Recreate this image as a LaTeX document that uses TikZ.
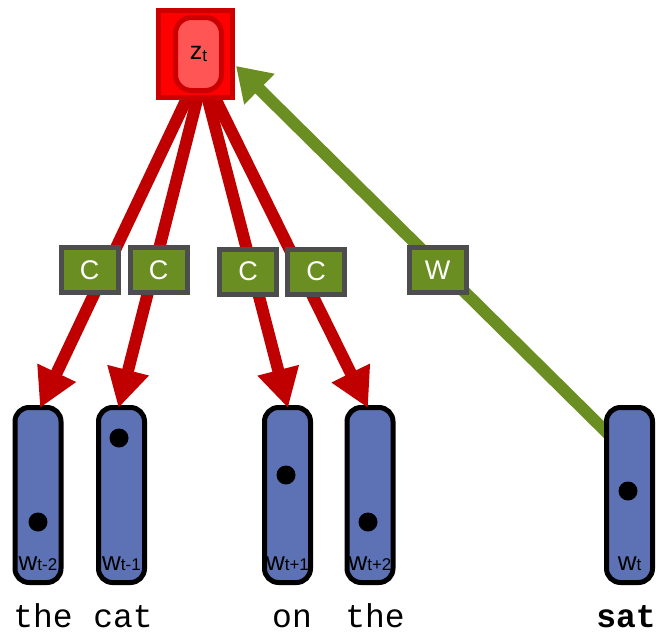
\documentclass[tikz,border=0pt]{standalone}
\usepackage{fontspec}
\setmainfont{Liberation Sans}
\newfontfamily\wordfont{Liberation Mono}
\usetikzlibrary{arrows.meta,calc}

\definecolor{linkred}{RGB}{192,0,0}
\definecolor{topedge}{RGB}{204,0,0}
\definecolor{topfill}{RGB}{255,0,0}
\definecolor{innerfill}{RGB}{255,85,85}
\definecolor{olivegreen}{RGB}{107,142,35}
\definecolor{boxgray}{RGB}{77,77,77}
\definecolor{vecblue}{RGB}{93,114,180}

\pgfdeclarelayer{greenlayer}
\pgfdeclarelayer{veclayer}
\pgfdeclarelayer{redlayer}
\pgfsetlayers{greenlayer,veclayer,redlayer,main}

\tikzset{
  vecbox/.style={draw=black, line width=5pt, fill=vecblue, rounded corners=14pt,
    minimum width=46pt, minimum height=175pt, inner sep=0pt},
  dotmark/.style={circle, fill=black, minimum size=19pt, inner sep=0pt},
  veclabel/.style={anchor=base, inner sep=0pt},
  cbox/.style={draw=boxgray, line width=5pt, fill=olivegreen, minimum width=57pt,
    minimum height=45pt, inner sep=0pt, text=white, font=\fontsize{27}{27}\selectfont},
  redlink/.style={draw=linkred, line width=12pt, -{Triangle[length=39pt,width=40pt]}},
  greenlink/.style={draw=olivegreen, line width=12pt, -{Triangle[length=33pt,width=41pt]}},
  word/.style={anchor=base, inner sep=0pt, text depth=0pt, text height=20pt,
    font=\wordfont\fontsize{33}{33}\selectfont},
}
\newcommand{\wsub}[1]{{\fontsize{26}{26}\selectfont w}{\fontsize{17}{17}\selectfont #1}}

\begin{document}
\begin{tikzpicture}[x=1pt,y=-1pt]
\useasboundingbox (0,0) rectangle (661,632);

% word vectors
\begin{pgfonlayer}{veclayer}
  \node[vecbox] (v1) at (38,495) {};
  \node[vecbox] (v2) at (121.5,495) {};
  \node[vecbox] (v3) at (287.5,495) {};
  \node[vecbox] (v4) at (370,495) {};
  \node[vecbox] (vt) at (629.5,495) {};
  \node[dotmark] (d1) at (38,522) {};
  \node[dotmark] (d2) at (119,438) {};
  \node[dotmark] (d3) at (286,475) {};
  \node[dotmark] (d4) at (368,522) {};
  \node[dotmark] (dt) at (628,491) {};
  \node[veclabel] (l1) at (38,570) {\wsub{t-2}};
  \node[veclabel] (l2) at (121.5,570) {\wsub{t-1}};
  \node[veclabel] (l3) at (287.5,570) {\wsub{t+1}};
  \node[veclabel] (l4) at (370,570) {\wsub{t+2}};
  \node[veclabel] (lt) at (629.5,570) {\wsub{t}};
\end{pgfonlayer}

% topic node
\node[draw=topedge, line width=5pt, fill=topfill, minimum width=74pt,
  minimum height=87pt, inner sep=0pt] (top) at (195.5,54) {};
\node[draw=topedge, line width=5pt, fill=innerfill, rounded corners=16pt,
  minimum width=46pt, minimum height=73pt, inner sep=0pt] (zt) at (198.5,54)
  {{\fontsize{25}{25}\selectfont z}\raisebox{-2pt}{\fontsize{17}{17}\selectfont t}};

% context links
\begin{pgfonlayer}{redlayer}
  \draw[redlink] ($(top.south)+(-5.5,-8)$) -- ($(v1.north)+(2,3)$);
  \draw[redlink] ($(top.south)+(3.5,-8)$) -- ($(v2.north)+(-3,3)$);
  \draw[redlink] ($(top.south)+(10.5,-8)$) -- ($(v3.north)+(0.5,3)$);
  \draw[redlink] ($(top.south)+(16.5,-8)$) -- ($(v4.north)+(-2,3)$);
\end{pgfonlayer}

% target word link
\begin{pgfonlayer}{greenlayer}
  \draw[greenlink] ($(vt.center)+(-10,-50)$) -- ($(top.east)+(1,12)$);
\end{pgfonlayer}

% weight boxes
\node[cbox] (c1) at (89.5,270) {C};
\node[cbox] (c2) at (158.5,270) {C};
\node[cbox] (c3) at (248,271.5) {C};
\node[cbox] (c4) at (316,271.5) {C};
\node[cbox] (wb) at (437.5,270) {W};

% words
\node[word] (t1) at (43,627) {the};
\node[word] (t2) at (123,627) {cat};
\node[word] (t3) at (292,627) {on};
\node[word] (t4) at (375,627) {the};
\node[word, font=\wordfont\bfseries\fontsize{33}{33}\selectfont] (t5) at (626,627) {sat};
\end{tikzpicture}
\end{document}
